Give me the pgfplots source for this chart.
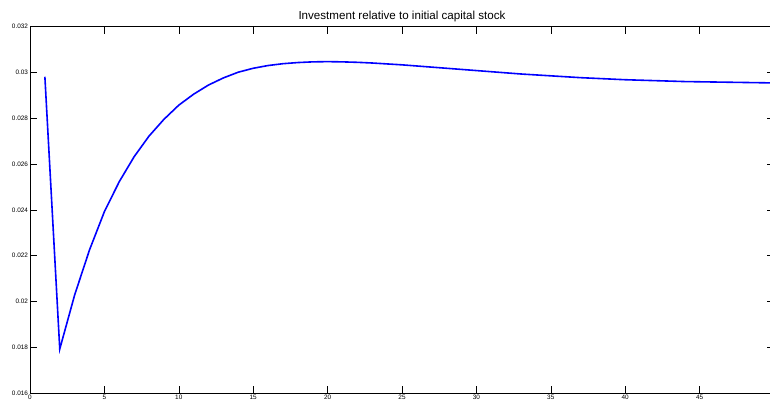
\documentclass[border=0pt]{standalone}
\usepackage{pgfplots}
\pgfplotsset{compat=1.18}
\usepackage{fontspec}
\setmainfont{Liberation Sans}

\begin{document}
\begin{tikzpicture}
\begin{axis}[
    scale only axis,
    width=744pt, height=366.4pt,
    xmin=0, xmax=50,
    ymin=0.016, ymax=0.032,
    xtick={0,5,...,45},
    ytick={0.016,0.018,0.020,0.022,0.024,0.026,0.028,0.030,0.032},
    yticklabel style={/pgf/number format/fixed, /pgf/number format/precision=3},
    /pgf/number format/assume math mode=true,
    scaled y ticks=false,
    tick align=inside,
    major tick length=7pt,
    tick style={black, line width=0.6pt},
    axis line style={black, line width=0.9pt},
    ticklabel style={font=\fontsize{6.4}{7}\selectfont},
    xticklabel style={yshift=1.5pt},
    yticklabel style={xshift=1.5pt},
    every axis title shift/.style={yshift=0pt},
    title={Investment relative to initial capital stock},
    title style={font=\fontsize{11.6}{13}\selectfont, at={(0.5,1)}, anchor=base, yshift=1pt},
]
\addplot[color={rgb,255:red,0;green,0;blue,255}, line width=1.6pt] coordinates {
    (1,0.02981) (2,0.01792) (3,0.02028) (4,0.02225) (5,0.02392)
    (6,0.02523) (7,0.02632) (8,0.02722) (9,0.02795) (10,0.02857)
    (11,0.02905) (12,0.02945) (13,0.02976) (14,0.03001) (15,0.03018)
    (16,0.03030) (17,0.03038) (18,0.03043) (19,0.03046) (20,0.03047)
    (21,0.03046) (22,0.03044) (23,0.03041) (24,0.03037) (25,0.03033)
    (26,0.03028) (27,0.03023) (28,0.03018) (29,0.03013) (30,0.03008)
    (31,0.03003) (32,0.02998) (33,0.02993) (34,0.02989) (35,0.02985)
    (36,0.02981) (37,0.02977) (38,0.02974) (39,0.02971) (40,0.02968)
    (41,0.02966) (42,0.02964) (43,0.02962) (44,0.02960) (45,0.02959)
    (46,0.02958) (47,0.02957) (48,0.02956) (49,0.02955) (50,0.02954)
};
\end{axis}
\pgfresetboundingbox
\useasboundingbox ([xshift=-30pt,yshift=-12pt]current axis.south west)
    rectangle ([xshift=740pt,yshift=26.6pt]current axis.north west);
\end{tikzpicture}
\end{document}
